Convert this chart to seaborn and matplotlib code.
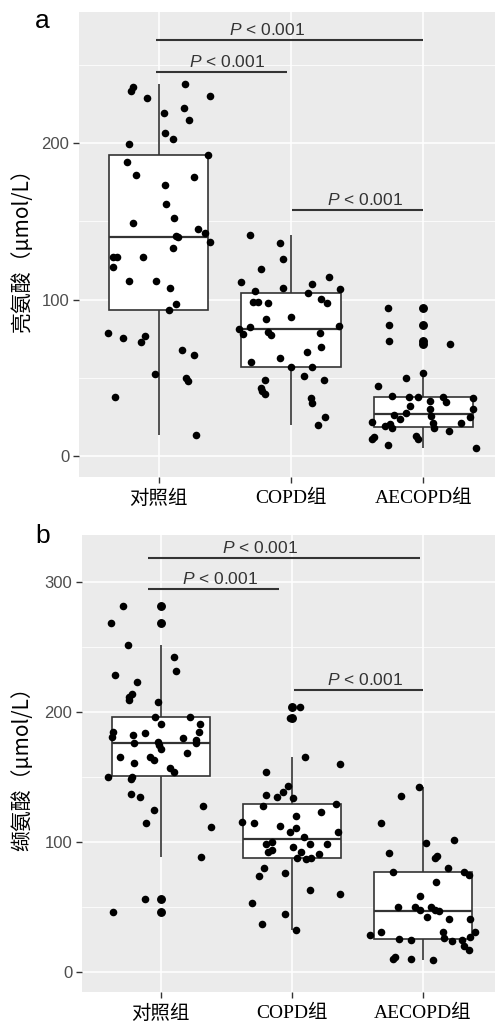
import numpy as np
import pandas as pd
import matplotlib
matplotlib.use("Agg")
import matplotlib.pyplot as plt
from matplotlib.ticker import FixedLocator
import seaborn as sns

# ---------------- data ----------------
groups = ["对照组", "COPD组", "AECOPD组"]

# Panel a: 亮氨酸 (μmol/L)
leu_ctrl = [237.7, 236.0, 233.2, 230.2, 228.6, 222.2, 219.2, 214.7, 206.2, 202.8,
            199.6, 192.3, 187.6, 179.6, 178.5, 173.0, 160.8, 152.3, 148.9, 145.0,
            142.5, 140.6, 140.2, 136.7, 132.9, 127.4, 127.4, 127.4, 121.0, 111.6,
            111.6, 107.1, 96.9, 93.1, 78.4, 76.7, 75.4, 72.6, 67.9, 64.3,
            52.2, 49.8, 47.9, 37.5, 13.4]
leu_ctrl_jit = [0.20, -0.19, -0.21, 0.39, -0.09, 0.19, 0.04, 0.23, 0.05, 0.11,
                -0.22, 0.37, -0.24, -0.17, 0.27, 0.05, 0.06, 0.12, -0.19, 0.30,
                0.35, 0.13, 0.15, 0.39, 0.11, -0.34, -0.31, -0.12, -0.34, -0.22,
                -0.02, 0.09, 0.13, 0.08, -0.38, -0.10, -0.27, -0.13, 0.18, 0.27,
                -0.03, 0.21, 0.22, -0.33, 0.28]
leu_copd = [141.2, 135.9, 125.7, 119.3, 114.4, 111.0, 109.7, 107.2, 106.5, 105.4,
            104.2, 100.5, 98.6, 98.6, 97.6, 97.6, 88.6, 87.5, 83.3, 82.2,
            81.2, 79.0, 78.8, 77.8, 77.3, 69.8, 66.3, 62.4, 59.9, 56.9,
            56.9, 51.3, 48.8, 48.8, 43.6, 41.5, 39.8, 36.9, 33.7, 24.7, 19.8]
leu_copd_jit = [-0.31, -0.08, -0.06, -0.23, 0.29, -0.38, 0.16, -0.06, 0.37, -0.27,
                0.13, 0.23, -0.29, -0.25, -0.17, 0.27, 0.00, -0.19, 0.36, -0.31,
                -0.39, -0.17, 0.22, -0.36, -0.15, 0.23, 0.12, -0.08, -0.30, 0.00,
                0.16, 0.10, 0.25, -0.20, -0.23, -0.22, -0.20, 0.15, 0.16, 0.26, 0.20]
leu_ae = [94.8, 83.7, 73.7, 71.6, 53.2, 49.6, 44.9, 38.3, 37.5, 37.6,
          37.9, 36.9, 35.4, 34.3, 31.9, 29.8, 29.8, 27.7, 26.0, 25.6,
          25.1, 23.6, 21.5, 21.3, 20.9, 20.2, 19.2, 17.7, 17.7, 16.0,
          12.8, 11.9, 10.9, 10.7, 6.8, 4.9]
leu_ae_jit = [-0.27, -0.26, -0.26, 0.20, 0.00, -0.13, -0.34, -0.24, -0.11, 0.15,
              -0.04, 0.37, 0.05, 0.17, -0.10, 0.37, 0.05, -0.13, -0.22, 0.06,
              0.35, -0.18, -0.39, 0.07, 0.28, -0.25, -0.29, -0.24, 0.08, 0.19,
              -0.06, -0.37, -0.04, -0.39, -0.27, 0.40]

# Panel b: 缬氨酸 (μmol/L)
val_ctrl = [281.5, 268.2, 251.5, 242.6, 231.8, 228.5, 223.1, 213.8, 211.3, 209.2,
            207.4, 196.4, 196.4, 190.8, 190.8, 184.6, 184.4, 184.1, 182.3, 181.0,
            180.2, 178.5, 176.9, 176.2, 176.2, 174.4, 171.8, 168.7, 165.6, 165.6,
            163.1, 161.0, 156.7, 153.6, 150.2, 150.2, 148.2, 136.9, 134.4, 127.9,
            124.6, 114.8, 111.3, 88.5, 56.2, 46.2]
val_ctrl_jit = [-0.29, -0.38, -0.25, 0.10, 0.12, -0.35, -0.18, -0.22, -0.24, -0.24,
                -0.02, -0.04, 0.22, 0.00, 0.30, 0.29, -0.36, -0.12, -0.21, -0.37,
                0.17, 0.27, -0.02, 0.27, -0.20, -0.01, 0.00, 0.20, -0.31, -0.08,
                -0.05, -0.20, 0.07, 0.10, -0.40, -0.22, -0.23, -0.23, -0.16, 0.32,
                -0.05, -0.11, 0.38, 0.31, -0.12, -0.36]
val_copd = [204.1, 195.1, 165.6, 159.7, 154.1, 143.3, 138.2, 136.2, 134.9, 133.6,
            129.2, 127.9, 123.3, 120.2, 115.6, 114.8, 112.5, 110.5, 107.9, 107.5,
            104.1, 100.2, 98.2, 98.2, 98.2, 95.9, 93.8, 92.5, 92.1, 90.5,
            87.9, 87.9, 86.9, 79.8, 75.9, 73.8, 63.1, 59.8, 52.8, 44.4, 36.7, 32.3]
val_copd_jit = [0.06, -0.01, 0.10, 0.37, -0.20, -0.03, -0.07, -0.20, -0.11, 0.01,
                0.34, -0.22, 0.22, 0.03, -0.38, -0.29, -0.09, 0.03, 0.35, -0.01,
                0.09, -0.15, -0.20, 0.14, 0.27, 0.01, -0.15, 0.07, -0.18, 0.21,
                0.04, 0.15, 0.11, -0.21, -0.05, -0.25, 0.14, 0.37, -0.30, -0.05, -0.23, 0.03]
val_ae = [142.1, 135.6, 114.6, 101.5, 99.2, 91.5, 89.0, 87.9, 79.8, 77.2,
          77.2, 74.6, 69.5, 58.5, 49.8, 49.8, 49.8, 47.7, 47.7, 47.2,
          42.5, 40.8, 40.8, 31.0, 31.0, 31.0, 28.5, 27.2, 25.9, 25.4,
          24.6, 24.4, 24.1, 20.2, 16.9, 11.8, 10.0, 9.8, 9.2]
val_ae_jit = [-0.03, -0.17, -0.32, 0.24, 0.02, -0.26, 0.11, 0.09, 0.19, -0.23,
              0.31, 0.35, 0.10, -0.02, -0.19, -0.06, 0.06, -0.02, 0.09, 0.12,
              0.03, 0.20, 0.36, -0.32, 0.15, 0.40, -0.40, 0.36, 0.16, -0.18,
              0.30, -0.09, 0.22, 0.31, 0.35, -0.21, -0.09, -0.23, 0.08]

# significance annotations
sig_label = "$P$ < 0.001"
sig_a_y = [265.8, 245.4, 157.2]
sig_a_x0 = [-0.02, -0.02, 1.01]
sig_a_x1 = [2.00, 0.97, 2.00]
sig_a_tx = [0.82, 0.52, 1.56]
sig_b_y = [318.5, 294.6, 217.0]
sig_b_x0 = [-0.10, -0.10, 1.02]
sig_b_x1 = [1.98, 0.90, 2.00]
sig_b_tx = [0.76, 0.45, 1.56]

ylabel_a = "亮氨酸（μmol/L）"
ylabel_b = "缬氨酸（μmol/L）"

# ---------------- style ----------------
sns.set_theme(style="darkgrid")
plt.rcParams["font.family"] = ["Liberation Sans", "Noto Sans CJK SC", "DejaVu Sans"]
plt.rcParams["mathtext.fontset"] = "custom"
plt.rcParams["mathtext.it"] = "Liberation Sans:italic"
plt.rcParams["mathtext.rm"] = "Liberation Sans"
plt.rcParams["axes.unicode_minus"] = False

DARK = "#333333"

fig = plt.figure(figsize=(4.95, 10.29), dpi=100)
ax_a = fig.add_axes([79 / 495, 1 - 477 / 1029, (503 - 79) / 495, (477 - 12) / 1029])
ax_b = fig.add_axes([82 / 495, 1 - 992 / 1029, (501.6 - 82) / 495, (992 - 535) / 1029])


def draw_panel(ax, vals, jits, ylim, yticks, yminor, ylabel, sy, sx0, sx1, stx, lab_x):
    df = pd.DataFrame({
        "group": np.repeat(groups, [len(v) for v in vals]),
        "value": np.concatenate(vals),
        "jit": np.concatenate(jits),
    })
    df["pos"] = df["group"].map({g: i for i, g in enumerate(groups)}) + df["jit"]

    ax.set_facecolor("#EBEBEB")
    sns.boxplot(data=df, x="group", y="value", order=groups, ax=ax, width=0.75,
                color="white", saturation=1, linecolor=DARK, linewidth=1.2,
                showcaps=False, fliersize=5.4,
                flierprops=dict(marker="o", markerfacecolor="black",
                                markeredgecolor="black"),
                medianprops=dict(linewidth=1.6, color=DARK))
    sns.scatterplot(data=df, x="pos", y="value", color="black", s=30,
                    linewidth=0, ax=ax, zorder=4, legend=False)

    for y, x0, x1, tx in zip(sy, sx0, sx1, stx):
        ax.hlines(y, x0, x1, color=DARK, linewidth=1.5, zorder=5)
        ax.annotate(sig_label, xy=(tx, y), xytext=(0, 1.5), textcoords="offset points",
                    ha="center", va="bottom", fontsize=12.5, color=DARK)

    ax.set_xlim(-0.6, 2.6)
    ax.set_ylim(*ylim)
    ax.set_xticks([0, 1, 2])
    ax.set_xticklabels(groups, fontsize=14, color="black",
                       family=["Liberation Serif", "Noto Sans CJK SC"])
    ax.set_yticks(yticks)
    ax.set_yticklabels([str(t) for t in yticks], fontsize=12, color="#4D4D4D")
    ax.yaxis.set_minor_locator(FixedLocator(yminor))
    ax.grid(which="major", color="white", linewidth=1.1)
    ax.grid(which="minor", axis="y", color="white", linewidth=0.55)
    ax.set_axisbelow(True)
    ax.tick_params(axis="both", which="major", length=4, width=1.0, color=DARK,
                   bottom=True, left=True)
    ax.tick_params(axis="x", pad=5)
    ax.tick_params(axis="y", pad=3)
    ax.tick_params(which="minor", length=0)
    for s in ax.spines.values():
        s.set_visible(False)
    ax.set_xlabel("")
    ax.set_ylabel(ylabel, fontsize=15, color="black",
                  family=["Noto Sans CJK SC", "DejaVu Sans"])
    ax.yaxis.set_label_coords(lab_x, 0.5)


draw_panel(ax_a, [leu_ctrl, leu_copd, leu_ae], [leu_ctrl_jit, leu_copd_jit, leu_ae_jit],
           (-13.4, 283.7), [0, 100, 200], [50, 150, 250], ylabel_a,
           sig_a_y, sig_a_x0, sig_a_x1, sig_a_tx, -0.11)
draw_panel(ax_b, [val_ctrl, val_copd, val_ae], [val_ctrl_jit, val_copd_jit, val_ae_jit],
           (-15.4, 336.2), [0, 100, 200, 300], [50, 150, 250], ylabel_b,
           sig_b_y, sig_b_x0, sig_b_x1, sig_b_tx, -0.117)

fig.text(35 / 495, 1 - 28 / 1029, "a", fontsize=19, ha="left", va="baseline", color="black")
fig.text(35 / 495, 1 - 543 / 1029, "b", fontsize=19, ha="left", va="baseline", color="black")

fig.savefig("out.png", dpi=100, facecolor="white")
